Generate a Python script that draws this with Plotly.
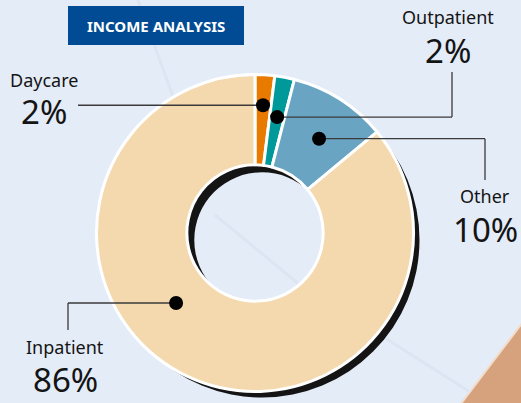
import math
import plotly.graph_objects as go

W, H = 521, 403

# data
labels = ["Daycare", "Outpatient", "Other", "Inpatient"]
values = [2, 2, 10, 86]
pct_text = ["2%", "2%", "10%", "86%"]
colors = ["#E97A00", "#00999A", "#69A4C3", "#F4D9AF"]

BG = "#E4ECF8"
INK = "#141414"

# donut geometry (pixels)
cx, cy, r = 255, 233, 158.5
hole = 0.43
shadow_dx, shadow_dy = 7, 7


def px(x):
    return x / W


def py(y):
    return 1 - y / H


def domain(x0, y0, rad):
    return dict(x=[px(x0 - rad), px(x0 + rad)], y=[py(y0 + rad), py(y0 - rad)])


fig = go.Figure()

# drop shadow ring
fig.add_trace(go.Pie(
    values=[1], marker=dict(colors=[INK], line=dict(width=0)),
    hole=hole, sort=False, textinfo="none", hoverinfo="skip",
    domain=domain(cx + shadow_dx, cy + shadow_dy, r - 1),
))

fig.add_trace(go.Pie(
    labels=labels, values=values, sort=False, direction="clockwise", rotation=0,
    hole=hole, textinfo="none",
    marker=dict(colors=colors, line=dict(color="white", width=3)),
    domain=domain(cx, cy, r),
))

shapes = []
annotations = []

# background decoration
shapes.append(dict(type="path", xref="paper", yref="paper", layer="below",
                   path=f"M {px(460)},{py(405)} L {px(523)},{py(322)} L {px(523)},{py(405)} Z",
                   fillcolor="#D6A27D", line=dict(color="#F2DCCB", width=2)))
for (x0, y0, x1, y1) in [(138, 0, 178, 110), (385, 338, 470, 392), (215, 215, 300, 285)]:
    shapes.append(dict(type="line", xref="paper", yref="paper", layer="below",
                       x0=px(x0), y0=py(y0), x1=px(x1), y1=py(y1),
                       line=dict(color="#DCE5F2", width=3)))

# title box
shapes.append(dict(type="rect", xref="paper", yref="paper", layer="above",
                   x0=px(68), x1=px(244), y0=py(45), y1=py(6),
                   fillcolor="#004B93", line=dict(width=0)))
annotations.append(dict(x=px(156), y=py(26), xref="paper", yref="paper",
                        xanchor="center", yanchor="middle",
                        text="<b>INCOME ANALYSIS</b>", showarrow=False,
                        font=dict(family="Noto Sans", size=15, color="white")))

# callouts: position within slice, radius of dot, elbow x, end y, label spot
callout_pos = [0.5, 0.5, 0.55, 0.575]
callout_rad = [128, 118, 114, 105.5]
elbow_x = [78, 452, 485, 68]
end_y = [None, 72, 180, 330]
label_xy = [(44, 80, 112), (448, 17, 50), (485, 196, 229), (65, 347, 379)]

total = sum(values)
start = 0
for i, v in enumerate(values):
    ang = math.radians(360 * (start + callout_pos[i] * v) / total)
    start += v
    dx = cx + callout_rad[i] * math.sin(ang)
    dy = cy - callout_rad[i] * math.cos(ang)
    line = dict(color="#3A3A3A", width=1.3)
    shapes.append(dict(type="line", xref="paper", yref="paper", layer="above",
                       x0=px(dx), y0=py(dy), x1=px(elbow_x[i]), y1=py(dy), line=line))
    if end_y[i] is not None:
        shapes.append(dict(type="line", xref="paper", yref="paper", layer="above",
                           x0=px(elbow_x[i]), y0=py(dy), x1=px(elbow_x[i]), y1=py(end_y[i]),
                           line=line))
    shapes.append(dict(type="circle", xref="paper", yref="paper", layer="above",
                       x0=px(dx - 7), x1=px(dx + 7), y0=py(dy + 7), y1=py(dy - 7),
                       fillcolor="black", line=dict(width=0)))
    lx, ny, vy = label_xy[i]
    annotations.append(dict(x=px(lx), y=py(ny), xref="paper", yref="paper",
                            xanchor="center", yanchor="middle",
                            text=labels[i], showarrow=False,
                            font=dict(family="Noto Sans", size=18, color=INK)))
    annotations.append(dict(x=px(lx), y=py(vy), xref="paper", yref="paper",
                            xanchor="center", yanchor="middle",
                            text=pct_text[i], showarrow=False,
                            font=dict(family="Noto Sans", size=33, color=INK)))

fig.update_layout(
    width=W, height=H,
    margin=dict(l=0, r=0, t=0, b=0),
    paper_bgcolor=BG, plot_bgcolor=BG,
    showlegend=False,
    shapes=shapes,
    annotations=annotations,
)

fig.write_html("out.html", config={"displayModeBar": False},
               post_script="document.body.style.margin='0';")
